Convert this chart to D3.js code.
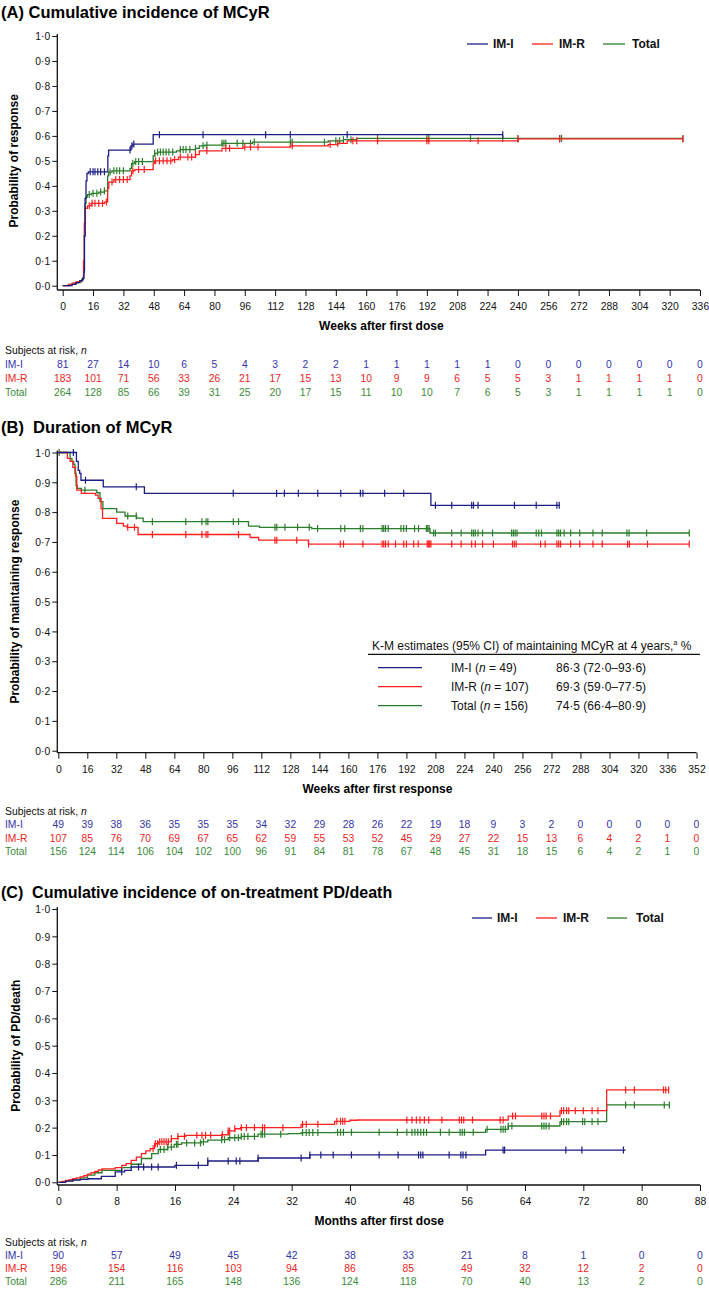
<!DOCTYPE html>
<html><head><meta charset="utf-8">
<script src="https://cdn.jsdelivr.net/npm/d3@7"></script>
<style>
body{margin:0;background:#fff;}
svg{display:block;font-family:'Liberation Sans',Arial,sans-serif;}
.nar{font-family:'Liberation Sans',Arial,sans-serif;font-size:11.5px;}
</style></head><body><svg id="c" width="709" height="1289"></svg>
<script>
// ---------- DATA ----------
const groups = ["IM-I", "IM-R", "Total"];
const yTickValues = [0,0.1,0.2,0.3,0.4,0.5,0.6,0.7,0.8,0.9,1.0];
const yTickLabels = ["0·0","0·1","0·2","0·3","0·4","0·5","0·6","0·7","0·8","0·9","1·0"];

// Panel A: cumulative incidence of MCyR (weeks)
const weeksA = [0,16,32,48,64,80,96,112,128,144,160,176,192,208,224,240,256,272,288,304,320,336];
const aIMI = [[0,0],[5,0.005],[7,0.012],[9,0.02],[10.5,0.03],[11.2,0.06],[11.5,0.2],[11.8,0.35],[12.3,0.42],[12.8,0.45],[13.5,0.456],[23.8,0.52],[24.2,0.543],[36,0.56],[37,0.567],[47.7,0.605]];
const aIMR = [[0,0],[3,0.005],[5,0.01],[7,0.015],[9,0.02],[10.5,0.03],[11,0.1],[11.4,0.25],[11.8,0.31],[13,0.32],[15,0.33],[22,0.335],[23.7,0.39],[24.3,0.415],[27,0.425],[35.5,0.44],[36.3,0.46],[38,0.465],[47.7,0.49],[48.3,0.5],[58,0.505],[61,0.515],[70,0.525],[72,0.54],[84,0.55],[95,0.555],[120,0.56],[140,0.565],[145,0.57],[150,0.58],[240,0.588]];
const aTotal = [[0,0],[4,0.005],[6,0.01],[8,0.015],[10,0.025],[11,0.05],[11.4,0.2],[11.8,0.33],[12.3,0.355],[13,0.365],[15,0.37],[19,0.375],[22,0.38],[23.7,0.44],[24.2,0.455],[26,0.46],[35.5,0.47],[36.3,0.49],[38,0.497],[47.7,0.52],[48.5,0.53],[50,0.535],[60,0.54],[62,0.545],[70,0.55],[72,0.56],[75,0.563],[84,0.57],[100,0.575],[140,0.58],[148,0.585],[155,0.59]];
const aEnd = [232, 327, 327];
const aIMIcens = [14.5,16,17,18.5,20,22,35.5,36.5,37.5,51,74,107,120,150,232];
const aIMRcens = [14,15.5,17,19,21,23,26,28,30,32,34,37,40,43,49,51,53,55,57,59,62,66,68,70,76,86,88,96,99,103,121,141,145,153,155,166,192,193,219,240,262,327];
const aTotalcens = [14,16,18,20,22,25,27,28.5,30,32,37,38.5,40,42,48.5,50,51.5,53,54.5,56,58,62,63.5,65,67,70,74,76,84,85,86,92,95,99,101,120,121,138,144,146,148,152,166,192,193,215,232,240,262,263,327];
const riskA_IMI = [81,27,14,10,6,5,4,3,2,2,1,1,1,1,1,0,0,0,0,0,0,0];
const riskA_IMR = [183,101,71,56,33,26,21,17,15,13,10,9,9,6,5,5,3,1,1,1,1,0];
const riskA_Total = [264,128,85,66,39,31,25,20,17,15,11,10,10,7,6,5,3,1,1,1,1,0];

// Panel B: duration of MCyR (weeks after first response)
const weeksB = [0,16,32,48,64,80,96,112,128,144,160,176,192,208,224,240,256,272,288,304,320,336,352];
const bIMI = [[0,1],[10,0.97],[11,0.94],[11.8,0.93],[12.5,0.907],[24.8,0.885],[47.5,0.863],[205.5,0.823]];
const bIMR = [[0,1],[5,0.98],[6.5,0.97],[8,0.95],[9.5,0.92],[10.2,0.874],[12.7,0.863],[20.5,0.857],[22,0.846],[23.6,0.812],[24.4,0.779],[32.2,0.762],[35.9,0.753],[38,0.749],[44,0.725],[105.8,0.715],[110.5,0.706],[138,0.693]];
const bTotal = [[0,1],[6.5,0.98],[7.5,0.97],[8.5,0.96],[9.2,0.93],[9.8,0.89],[10.5,0.88],[12.7,0.874],[21.2,0.865],[23,0.835],[24.6,0.812],[32.2,0.8],[36.8,0.787],[43.2,0.78],[46.8,0.768],[104.9,0.753],[111,0.749],[139.8,0.745],[205,0.73]];
const bEnd = [276.5, 348, 348];
const bIMIcens = [8.3,15,43,96.5,120.4,124.7,132.4,143.1,155.8,166.6,168,180,190.5,208,217,228,229,231.5,251.6,263.6,275,276.3];
const bIMRcens = [38.3,42,51.9,70.3,79.2,81.5,82.5,99.4,119.5,120.5,131.5,138,155.5,157.3,168,178.6,179.5,180.5,182,186,190.5,192,196,198.5,203.5,204,204.5,205,205.5,217,222.2,228,230,234,240,250.5,251.5,252.5,266,268.5,275,276,277,282.6,287.6,294.9,300,314,315,325,348];
const bTotalcens = [0.5,14.7,38.3,43,51.9,70.3,79.2,81.5,82.5,96.5,99.4,119.5,120.5,125,132,138.4,143,155.8,158,166.6,168,178.6,179.5,180.5,182,189,190.5,192,196.5,198.7,203,203.8,204.5,207,208,217,222.2,228,229,230,231.5,234,239.5,250,251,252,253,263.6,265,266.5,275,276,277,279,282.6,287.6,294.9,300,313.6,314.8,324.5,348];
const riskB_IMI = [49,39,38,36,35,35,35,34,32,29,28,26,22,19,18,9,3,2,0,0,0,0,0];
const riskB_IMR = [107,85,76,70,69,67,65,62,59,55,53,52,45,29,27,22,15,13,6,4,2,1,0];
const riskB_Total = [156,124,114,106,104,102,100,96,91,84,81,78,67,48,45,31,18,15,6,4,2,1,0];
const legendBHeader = "K-M estimates (95% CI) of maintaining MCyR at 4 years,";
const legendBLabels = [["IM-I (", "49)"], ["IM-R (", "107)"], ["Total (", "156)"]];
const legendBValues = ["86·3 (72·0–93·6)", "69·3 (59·0–77·5)", "74·5 (66·4–80·9)"];

// Panel C: cumulative incidence of on-treatment PD/death (months)
const monthsC = [0,8,16,24,32,40,48,56,64,72,80,88];
const cIMI = [[0,0],[1,0.004],[2,0.008],[3,0.011],[4.1,0.013],[5.9,0.022],[7.8,0.038],[9.1,0.044],[10,0.056],[16,0.062],[20.5,0.078],[27.4,0.089],[34.5,0.1],[58.6,0.118]];
const cIMR = [[0,0],[0.5,0.003],[1,0.007],[1.5,0.01],[2,0.013],[2.5,0.016],[3,0.02],[3.5,0.024],[4,0.03],[4.5,0.035],[5,0.04],[5.5,0.045],[6,0.049],[7.8,0.054],[8.7,0.062],[9.3,0.068],[10,0.08],[10.7,0.092],[11.4,0.105],[12,0.115],[12.6,0.123],[13.2,0.141],[13.7,0.148],[15.5,0.16],[16.4,0.168],[17.5,0.172],[22.4,0.174],[23.3,0.188],[24.2,0.196],[25,0.2],[33.3,0.212],[37.9,0.223],[40,0.227],[41,0.228],[61.7,0.2425],[68.8,0.262],[75.2,0.338]];
const cTotal = [[0,0],[0.5,0.002],[1,0.005],[2,0.01],[3,0.016],[4,0.026],[5,0.035],[6,0.044],[8.7,0.054],[10,0.066],[11.4,0.087],[12.8,0.105],[13.7,0.12],[15,0.129],[15.9,0.139],[16.9,0.144],[19.6,0.148],[20.5,0.154],[22.4,0.156],[23.3,0.163],[25.1,0.168],[27.4,0.176],[31.5,0.178],[33.3,0.182],[38,0.183],[58.6,0.194],[61.7,0.206],[68.8,0.222],[75.2,0.283]];
const cEnd = [77.8, 83.7, 83.8];
const cIMIcens = [8.7,11,11.7,12.8,13.7,16.2,19.2,20.5,23.3,24.4,24.9,27.4,33.3,34.5,36,37.7,40.2,44,46.6,49.4,49.7,50,53.6,55.2,55.5,55.9,61,61.2,69.6,71.8,77.5];
const cIMRcens = [13,13.3,13.6,13.9,14.2,14.5,14.8,15.1,15.5,16.4,17.3,19,19.7,20.2,20.9,22.5,23.3,23.5,24.2,25.1,25.8,26.9,28,28.3,30.8,33.5,34,35.6,38.2,38.7,39,39.3,47.8,48.5,49.1,49.6,50.2,50.8,52.6,55,55.3,55.6,56.8,60.6,61,62.3,62.7,66.3,66.6,66.9,67.5,69,69.3,69.7,70,70.9,72,73.2,74,77.8,79,83,83.3,83.7];
const cTotalcens = [14,14.5,15,15.5,16.2,16.4,17.6,18.7,19.5,19.9,22.4,22.8,23.5,24.2,24.7,25.1,25.5,26,26.9,27.8,28,28.3,30.5,33.5,34,34.4,34.9,35.6,38.3,38.7,39.1,40.2,44,46.5,47.8,48.5,48.9,49.3,49.7,50.1,50.5,52.4,53.6,55.1,55.4,55.7,56.9,58.8,60.7,61,61.3,61.7,62.2,66.3,66.6,66.9,67.3,69,69.3,69.7,70,71.9,72.2,73.2,74,77.8,79,83.1,83.8];
const riskC_IMI = [90,57,49,45,42,38,33,21,8,1,0,0];
const riskC_IMR = [196,154,116,103,94,86,85,49,32,12,2,0];
const riskC_Total = [286,211,165,148,136,124,118,70,40,13,2,0];

// ---------- STYLE ----------
const lineColors = ["#1c1c85", "#ff1f1f", "#2a7d2a"];
const textColors = ["#3434a8", "#ec2424", "#3a8c3a"];
const NARROW = 0.9;

const svg = d3.select("#c");

function stepVal(data, t) {
  let v = data[0][1];
  for (const p of data) { if (p[0] <= t + 1e-9) v = p[1]; else break; }
  return v;
}

function nText(parent, x, y, anchor, color) {
  return parent.append("text").attr("class", "nar")
    .attr("transform", `translate(${x},${y}) scale(${NARROW},1)`)
    .attr("text-anchor", anchor).attr("fill", color);
}

function panel(o) {
  const g = svg.append("g");
  const x = d3.scaleLinear().domain([0, o.xmax]).range([o.x0, o.x1]);
  const y = d3.scaleLinear().domain([0, 1]).range([o.y0, o.y1]);
  const axX = 57.3;

  g.append("text").attr("x", 1).attr("y", o.titleY).attr("font-size", o.titleSize).attr("font-weight", "bold")
    .style("white-space", "pre").text(o.title);

  // y axis
  const ya = d3.axisLeft(y).tickValues(yTickValues).tickFormat((d, i) => yTickLabels[i]).tickSize(5).tickSizeOuter(0);
  const yg = g.append("g").attr("transform", `translate(${axX},0)`).call(ya);
  yg.select(".domain").remove();
  yg.selectAll("text").attr("class", "nar").attr("x", -7 / NARROW).attr("transform", `scale(${NARROW},1)`).attr("fill", "#111");
  yg.selectAll("line").attr("stroke", "#111");
  g.append("line").attr("x1", axX).attr("x2", axX).attr("y1", o.y1 - 2).attr("y2", o.axisY).attr("stroke", "#111").attr("stroke-width", 1.3);

  // x axis
  const xa = d3.axisBottom(x).tickValues(o.xticks).tickFormat(d => d).tickSize(6).tickSizeOuter(0);
  const xg = g.append("g").attr("transform", `translate(0,${o.axisY})`).call(xa);
  xg.select(".domain").remove();
  xg.selectAll("text").attr("class", "nar").attr("y", 12).attr("transform", `scale(${NARROW},1)`).attr("fill", "#111");
  xg.selectAll("line").attr("stroke", "#111");
  g.append("line").attr("x1", axX).attr("x2", o.x1).attr("y1", o.axisY).attr("y2", o.axisY).attr("stroke", "#111").attr("stroke-width", 1.3);

  // axis titles
  g.append("text").attr("x", (o.x0 + o.x1) / 2).attr("y", o.axisY + 40).attr("text-anchor", "middle")
    .attr("font-size", "12px").attr("font-weight", "bold").text(o.xTitle);
  g.append("text").attr("transform", `translate(${o.yTitleX},${(o.y1 + o.y0) / 2}) rotate(-90)`).attr("text-anchor", "middle")
    .attr("font-size", "12px").attr("font-weight", "bold").text(o.yTitle);

  // curves
  const line = d3.line().x(d => x(d[0])).y(d => y(d[1])).curve(d3.curveStepAfter);
  [2, 1, 0].forEach(i => {
    const s = o.series[i];
    const pts = s.data.concat([[s.end, s.data[s.data.length - 1][1]]]);
    g.append("path").attr("d", line(pts)).attr("fill", "none").attr("stroke", lineColors[i]).attr("stroke-width", 1.3);
    g.selectAll(null).data(s.cens).enter().append("line")
      .attr("x1", d => x(d)).attr("x2", d => x(d))
      .attr("y1", d => y(stepVal(s.data, d)) - 3.5).attr("y2", d => y(stepVal(s.data, d)) + 3.5)
      .attr("stroke", lineColors[i]).attr("stroke-width", 1.2);
  });

  // risk table
  const rt = g.append("g");
  const sub = nText(rt, 5, o.axisY + o.rtTop, "start", "#111");
  sub.append("tspan").text("Subjects at risk,  ");
  sub.append("tspan").attr("font-style", "italic").text("n");
  o.risk.forEach((row, i) => {
    const yy = o.axisY + o.rtTop + (i + 1) * o.rtStep;
    nText(rt, 5, yy, "start", textColors[i]).text(groups[i]);
    row.forEach((d, j) => nText(rt, x(o.xticks[j]), yy, "middle", textColors[i]).text(d));
  });
  return { g, x, y };
}

function topLegend(g, yc, xs) {
  groups.forEach((name, i) => {
    g.append("line").attr("x1", xs[i][0]).attr("x2", xs[i][1]).attr("y1", yc).attr("y2", yc)
      .attr("stroke", lineColors[i]).attr("stroke-width", 1.3);
    g.append("text").attr("x", xs[i][2]).attr("y", yc + 4.3).attr("font-size", "12px").attr("font-weight", "bold")
      .attr("fill", "#111").text(name);
  });
}

// Panel A
const pA = panel({
  title: "(A) Cumulative incidence of MCyR", titleY: 18, titleSize: "16.5px",
  y1: 36, y0: 285.7, axisY: 290, x0: 62.7, x1: 700, xmax: 336, xticks: weeksA,
  xTitle: "Weeks after first dose", yTitle: "Probability of response", yTitleX: 18,
  series: [
    { data: aIMI, end: aEnd[0], cens: aIMIcens },
    { data: aIMR, end: aEnd[1], cens: aIMRcens },
    { data: aTotal, end: aEnd[2], cens: aTotalcens }],
  risk: [riskA_IMI, riskA_IMR, riskA_Total], rtTop: 64, rtStep: 14
});
topLegend(pA.g, 44, [[467, 488, 493], [532, 553, 559], [603, 625, 632]]);

// Panel B
const pB = panel({
  title: "(B)  Duration of MCyR", titleY: 433, titleSize: "16.5px",
  y1: 452.5, y0: 750.7, axisY: 752.7, x0: 58.3, x1: 696.5, xmax: 352, xticks: weeksB,
  xTitle: "Weeks after first response", yTitle: "Probability of maintaining response", yTitleX: 19,
  series: [
    { data: bIMI, end: bEnd[0], cens: bIMIcens },
    { data: bIMR, end: bEnd[1], cens: bIMRcens },
    { data: bTotal, end: bEnd[2], cens: bTotalcens }],
  risk: [riskB_IMI, riskB_IMR, riskB_Total], rtTop: 62, rtStep: 13.5
});
{
  const g = pB.g;
  const h = g.append("text").attr("x", 372).attr("y", 650).attr("font-size", "12px").attr("fill", "#111");
  h.append("tspan").text(legendBHeader);
  h.append("tspan").attr("font-size", "7px").attr("dy", -5).text("a");
  h.append("tspan").attr("dy", 5).text(" %");
  g.append("line").attr("x1", 368).attr("x2", 700).attr("y1", 654.3).attr("y2", 654.3).attr("stroke", "#111").attr("stroke-width", 1.2);
  [667.7, 686.7, 705.7].forEach((yc, i) => {
    g.append("line").attr("x1", 378).attr("x2", 422).attr("y1", yc).attr("y2", yc).attr("stroke", lineColors[i]).attr("stroke-width", 1.3);
    const t = g.append("text").attr("x", 451).attr("y", yc + 4.3).attr("font-size", "12px").attr("fill", "#111");
    t.append("tspan").text(legendBLabels[i][0]);
    t.append("tspan").attr("font-style", "italic").text("n");
    t.append("tspan").text(" = " + legendBLabels[i][1]);
    g.append("text").attr("x", 556).attr("y", yc + 4.3).attr("font-size", "12px").attr("fill", "#111").text(legendBValues[i]);
  });
}

// Panel C
const pC = panel({
  title: "(C)  Cumulative incidence of on-treatment PD/death", titleY: 898, titleSize: "16px",
  y1: 909, y0: 1182.3, axisY: 1185, x0: 58.3, x1: 700, xmax: 88, xticks: monthsC,
  xTitle: "Months after first dose", yTitle: "Probability of PD/death", yTitleX: 20,
  series: [
    { data: cIMI, end: cEnd[0], cens: cIMIcens },
    { data: cIMR, end: cEnd[1], cens: cIMRcens },
    { data: cTotal, end: cEnd[2], cens: cTotalcens }],
  risk: [riskC_IMI, riskC_IMR, riskC_Total], rtTop: 61, rtStep: 13
});
topLegend(pC.g, 918, [[472, 492, 497], [536, 557, 563], [607, 627, 636]]);
</script></body></html>
